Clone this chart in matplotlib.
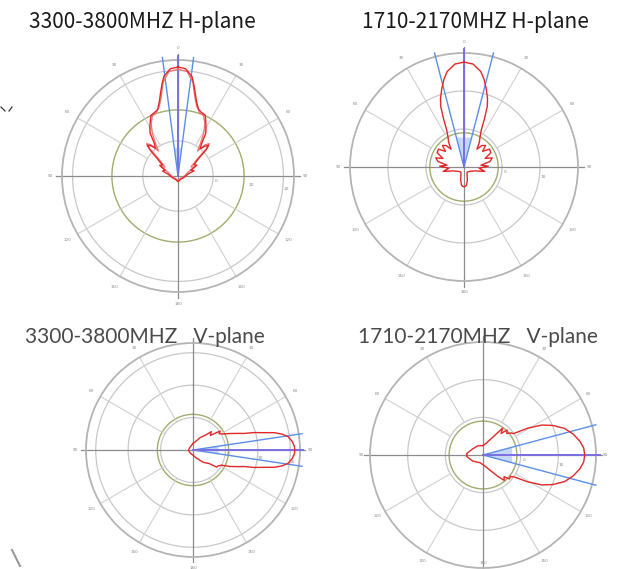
import numpy as np
import matplotlib.pyplot as plt

W, H = 620, 569

titles = ['3300-3800MHZ H-plane', '1710-2170MHZ H-plane',
          '3300-3800MHZ   V-plane', '1710-2170MHZ   V-plane']

angle_labels = ['0', '30', '60', '90', '120', '150', '180', '150', '120', '90', '60', '30']

# 3300-3800 H-plane (deg clockwise from north, dB)
h33_ang = [0, 4, 8, 10, 12, 14, 17, 20, 24, 27, 30, 33, 36, 39, 42, 45, 47, 50, 55, 60,
           65, 72, 80, 90, 110, 140, 180, 220, 250, 270, 280, 288, 295, 300, 305, 310,
           313, 315, 318, 321, 324, 327, 330, 333, 336, 340, 343, 346, 348, 350, 352, 356, 360]
h33_db = [21.0, 20.6, 18.6, 16.2, 13.8, 11.8, 9.9, 9.3, 9.0, 7.4, 5.9, 4.5, 1.5, 0.0, 1.4, 2.3,
          1.0, -2.5, -4.5, -3.8, -6.0, -5.2, -7.2, -7.8, -8.4, -8.8, -8.4, -8.8, -8.4, -7.8,
          -7.2, -5.4, -6.0, -4.0, -4.6, -2.3, 0.8, 2.4, 1.6, 0.2, 1.4, 4.6, 6.0, 7.4, 8.9, 9.3,
          9.8, 11.9, 14.0, 16.4, 18.7, 20.6, 21.0]
h33b_ang = [0, 5, 9, 12, 15, 19, 23, 27, 31, 35, 38, 41, 44, 46, 49, 55, 62, 70, 90, 180,
            270, 290, 298, 305, 311, 314, 316, 319, 322, 325, 329, 333, 337, 341, 345, 348,
            351, 355, 360]
h33b_db = [20.4, 19.8, 17.0, 13.0, 10.5, 9.0, 8.6, 6.8, 4.2, 1.0, -1.0, 1.8, 2.8, 1.2, -3.0,
           -5.5, -4.6, -7.0, -8.2, -8.8, -8.2, -7.0, -4.6, -5.5, -3.0, 1.2, 2.8, 1.8, -1.0,
           1.0, 4.2, 6.8, 8.6, 9.0, 10.5, 13.0, 17.0, 19.8, 20.4]

# 1710-2170 H-plane
h17_ang = [0, 5, 10, 13, 16, 19, 21, 23, 25, 28, 32, 36, 40, 45, 50, 55, 62, 68, 72, 78,
           84, 88, 95, 102, 110, 130, 150, 160, 166, 172, 176, 180, 184, 188, 194, 200,
           210, 230, 250, 258, 265, 272, 276, 282, 288, 292, 298, 305, 310, 315, 320, 324,
           328, 332, 335, 337, 339, 341, 344, 347, 350, 355, 360]
h17_db = [17.6, 17.2, 15.5, 13.6, 11.3, 9.0, 7.1, 3.8, 0.8, -1.0, -2.4, -4.2, -2.6, -2.0,
          -3.6, -1.8, -2.0, -4.0, -2.2, -3.0, -5.5, -3.6, -6.0, -4.4, -7.0, -8.2, -8.4, -7.6,
          -6.4, -5.2, -4.9, -4.8, -4.9, -5.2, -6.4, -7.6, -8.4, -8.2, -7.0, -4.4, -6.0, -3.6,
          -5.5, -3.0, -2.2, -4.0, -2.0, -1.8, -3.6, -2.0, -2.6, -4.2, -2.4, -1.0, 0.8, 3.8,
          7.1, 9.0, 11.3, 13.6, 15.5, 17.2, 17.6]

# 3300-3800 V-plane
v33_ang = [0, 20, 30, 40, 45, 50, 55, 58, 62, 66, 70, 72, 74, 76, 78, 80, 82, 85, 88, 90,
           92, 95, 98, 100, 102, 104, 106, 108, 110, 114, 118, 122, 126, 130, 140, 160,
           180, 220, 270, 320, 360]
v33_db = [-8.0, -7.0, -5.6, -4.0, -2.0, -3.0, 0.2, -0.5, 0.5, 2.5, 5.0, 6.5, 9.5, 12.1,
          15.7, 18.0, 19.6, 20.7, 21.3, 21.4, 21.3, 20.7, 19.6, 18.0, 15.7, 12.1, 9.5, 6.5,
          5.0, 2.5, 0.0, -0.8, -1.0, -3.5, -5.0, -7.5, -8.4, -8.7, -8.6, -8.7, -8.0]

# 1710-2170 V-plane
v17_ang = [0, 15, 25, 32, 36, 40, 44, 48, 52, 55, 59, 63, 67, 72, 77, 82, 86, 90, 94, 98,
           103, 108, 113, 117, 121, 125, 128, 132, 136, 140, 145, 155, 170, 200, 240, 260,
           266, 270, 274, 280, 300, 330, 360]
v17_db = [-7.5, -6.8, -5.5, -3.5, -1.2, -2.5, -0.8, -1.5, -0.5, -0.1, 3.8, 7.5, 10.1, 12.8,
          14.6, 16.0, 16.8, 17.0, 16.8, 16.0, 14.6, 12.8, 10.1, 7.5, 3.8, 0.2, -0.8, -0.5,
          -2.0, -1.2, -3.0, -5.5, -7.0, -7.8, -6.8, -6.0, -5.6, -5.8, -5.6, -6.0, -6.8, -7.2,
          -7.5]


def ring(ax, r, color, lw):
    t = np.linspace(0, 2 * np.pi, 361)
    ax.plot(t, np.full_like(t, r), color=color, lw=lw, zorder=1)


def panel(fig, cx, cy, R, rmax, rings, rlabels, green, beam, half, skip=(), lab_pad=0.1):
    ax = fig.add_axes([(cx - R) / W, 1 - (cy + R) / H, 2 * R / W, 2 * R / H], projection='polar')
    ax.set_theta_zero_location('N')
    ax.set_theta_direction(-1)
    rmin = -10
    ax.set_rlim(rmin, rmax)
    ax.set_xticks([])
    ax.set_yticks([])
    ax.grid(False)
    ax.spines['polar'].set_color('#b4b4b4')
    ax.spines['polar'].set_linewidth(1.3)
    for r in rings:
        ring(ax, r, '#c8c8c8', 0.9)
    ring(ax, green, '#9fae6c', 1.0)
    for a in range(0, 360, 30):
        if a % 90:
            ax.plot([np.radians(a)] * 2, [0, rmax], color='#d0d0d0', lw=0.8, zorder=1)
    ext = rmax + 0.05 * (rmax - rmin)
    for a in (0, 90, 180, 270):
        ax.plot([np.radians(a)] * 2, [rmin, ext], color='#8c8c8c', lw=0.9, zorder=1, clip_on=False)
    for i, lab in enumerate(angle_labels):
        if i in skip:
            continue
        ax.text(np.radians(i * 30), rmax + lab_pad * (rmax - rmin), lab, fontsize=3,
                color='#8a8a8a', ha='center', va='center')
    for r in rlabels:
        ax.text(np.radians(97), r + 1.0, str(r), fontsize=3.2, color='#8a8a8a',
                ha='center', va='center')
    # beam lines
    b = np.radians(beam)
    h = np.radians(half)
    ax.fill([b - h, b, b + h], [rmin + 8, rmin, rmin + 8], color='#c4d8f6', lw=0, zorder=2)
    for d in (-h, h):
        ax.plot([b + d] * 2, [rmin, rmax + 1], color='#5b8fe6', lw=1.0, zorder=3, clip_on=False)
    ax.plot([b, b], [rmin, rmax + 1], color='#7a6fe0', lw=1.4, zorder=3, clip_on=False)
    return ax


fig = plt.figure(figsize=(W / 100, H / 100), dpi=100)

ax1 = panel(fig, 178, 176, 116, 23, [0, 20], [0, 10, 20], 8.8, 0, 7.5)
ax1.plot(np.radians(h33b_ang), h33b_db, color='#f07070', lw=0.9, zorder=4)
ax1.plot(np.radians(h33_ang), h33_db, color='#e02828', lw=1.0, zorder=5)

ax2 = panel(fig, 464, 167, 114, 20, [0, 10], [0, 10], -1, 0, 14.5)
ax2.plot(np.radians(h17_ang), h17_db, color='#e02828', lw=1.0, zorder=5)

ax3 = panel(fig, 193, 450, 107, 23, [0, 10, 20], [0, 10, 20], 1.0, 90, 8.5, skip=(0,))
ax3.plot(np.radians(v33_ang), v33_db, color='#e02828', lw=1.0, zorder=5)

ax4 = panel(fig, 483, 455, 113, 20, [0, 10], [0, 10], -1, 90, 15, skip=(0, 6), lab_pad=0.08)
ax4.plot(np.radians(v17_ang), v17_db, color='#e02828', lw=1.0, zorder=5)
ax4.text(np.pi, 18.8, '180', fontsize=3, color='#8a8a8a', ha='center', va='center')

fig.text(142 / W, 1 - 22 / H, titles[0], fontsize=15, family=['Noto Sans CJK SC', 'DejaVu Sans'],
         color='#1a1a1a', ha='center', va='center')
fig.text(475 / W, 1 - 22 / H, titles[1], fontsize=15, family=['Noto Sans CJK SC', 'DejaVu Sans'],
         color='#1a1a1a', ha='center', va='center')
fig.text(145 / W, 1 - 337 / H, titles[2], fontsize=15, family='Lato',
         color='#4a4a4a', ha='center', va='center')
fig.text(478 / W, 1 - 337 / H, titles[3], fontsize=15, family='Lato',
         color='#4a4a4a', ha='center', va='center')

# scanning marks in the corners
fig.add_artist(plt.Line2D([1 / W, 5 / W], [1 - 107 / H, 1 - 111 / H], color='#333', lw=0.9))
fig.add_artist(plt.Line2D([9 / W, 12 / W], [1 - 111 / H, 1 - 107 / H], color='#333', lw=0.9))
fig.add_artist(plt.Line2D([12 / W, 20 / W], [1 - 550 / H, 1 - 566 / H], color='#999', lw=1.5))

fig.savefig('out.png', dpi=100, facecolor='white')
